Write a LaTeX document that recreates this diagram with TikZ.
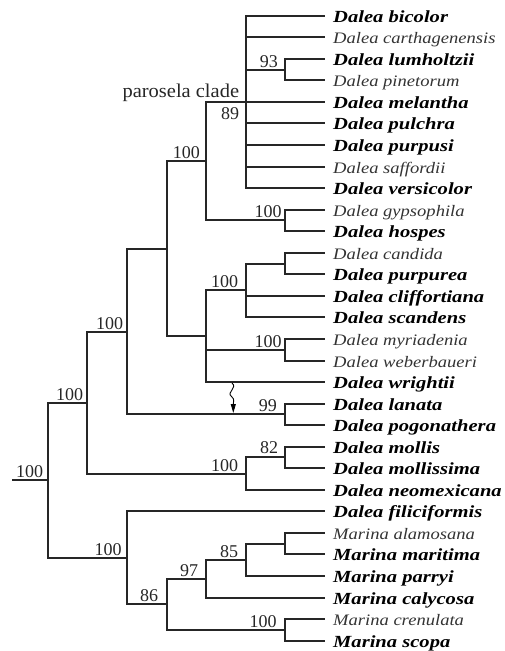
\documentclass[tikz,border=0pt]{standalone}
\usepackage{fontspec}
\setmainfont{Liberation Serif}
\newfontfamily\boldleaf[FakeStretch=1.21]{Liberation Serif}
\newfontfamily\plainleaf[FakeStretch=1.16]{Liberation Serif}
\newfontfamily\cladefont[FakeStretch=1.05]{Liberation Serif}
\usetikzlibrary{arrows.meta}
\tikzset{
  branch/.style={line width=2pt, draw=black!85},
  lb/.style={anchor=base west, inner sep=0pt, font=\boldleaf\fontsize{17}{17}\selectfont\bfseries\itshape},
  lp/.style={anchor=base west, inner sep=0pt, text=black!80, font=\plainleaf\fontsize{16}{16}\selectfont\itshape},
  supp/.style={anchor=base east, inner sep=0pt, text=black!85, font=\fontsize{18}{18}\selectfont},
  cladelabel/.style={anchor=base east, inner sep=0pt, text=black!85, font=\cladefont\fontsize{19.5}{19.5}\selectfont},
  squig/.style={line width=0.9pt, -{Triangle[length=9pt,width=5pt]}}
}
\begin{document}
\begin{tikzpicture}[x=1pt,y=-1pt]
\useasboundingbox (0,0) rectangle (504,651);
% internal nodes
\coordinate (r0) at (12,480);
\coordinate (R)  at (48,480);
\coordinate (A)  at (87,403);
\coordinate (F)  at (127,558);
\coordinate (B)  at (127,332);
\coordinate (M)  at (246,474);
\coordinate (C)  at (167,249);
\coordinate (L)  at (285,414);
\coordinate (D)  at (206,161);
\coordinate (E)  at (206,336);
\coordinate (P)  at (246,102);
\coordinate (Q)  at (285,70);
\coordinate (G1) at (285,220);
\coordinate (J)  at (246,290);
\coordinate (J1) at (285,264);
\coordinate (K)  at (285,350);
\coordinate (N)  at (285,457);
\coordinate (G)  at (167,604);
\coordinate (H)  at (206,579);
\coordinate (I)  at (246,560);
\coordinate (I1) at (285,544);
\coordinate (S)  at (285,630);
% leaves
\foreach \i/\nm/\st/\pa in {
  0/Dalea bicolor/lb/P,
  1/Dalea carthagenensis/lp/P,
  2/Dalea lumholtzii/lb/Q,
  3/Dalea pinetorum/lp/Q,
  4/Dalea melantha/lb/P,
  5/Dalea pulchra/lb/P,
  6/Dalea purpusi/lb/P,
  7/Dalea saffordii/lp/P,
  8/Dalea versicolor/lb/P,
  9/Dalea gypsophila/lp/G1,
  10/Dalea hospes/lb/G1,
  11/Dalea candida/lp/J1,
  12/Dalea purpurea/lb/J1,
  13/Dalea cliffortiana/lb/J,
  14/Dalea scandens/lb/J,
  15/Dalea myriadenia/lp/K,
  16/Dalea weberbaueri/lp/K,
  17/Dalea wrightii/lb/E,
  18/Dalea lanata/lb/L,
  19/Dalea pogonathera/lb/L,
  20/Dalea mollis/lb/N,
  21/Dalea mollissima/lb/N,
  22/Dalea neomexicana/lb/M,
  23/Dalea filiciformis/lb/F,
  24/Marina alamosana/lp/I1,
  25/Marina maritima/lb/I1,
  26/Marina parryi/lb/I,
  27/Marina calycosa/lb/H,
  28/Marina crenulata/lp/S,
  29/Marina scopa/lb/S}{
  \pgfmathsetmacro{\yy}{round(15.7+21.55*\i)}
  \coordinate (l\i) at (325,\yy);
  \node[\st] (t\i) at (333,{\yy+6.5}) {\nm};
  \draw[branch] (\pa) |- (l\i);
}
% internal branches
\draw[branch] (r0) -- (R);
\foreach \p/\c in {R/A,R/F,A/B,A/M,B/C,B/L,C/D,C/E,D/P,D/G1,P/Q,E/J,E/K,J/J1,M/N,F/G,G/H,G/S,H/I,I/I1}{
  \draw[branch] (\p) |- (\c);
}
% support values
\node[supp] (nR)  at (43.3,477.5) {100};
\node[supp] (nA)  at (83.3,400) {100};
\node[supp] (nB)  at (123.3,329) {100};
\node[supp] (nD)  at (200,158) {100};
\node[supp] (nG1) at (281.7,217.5) {100};
\node[supp] (nQ)  at (278,67) {93};
\node[cladelabel] (pc) at (239.3,97) {parosela clade};
\node[supp] (nP)  at (239.3,119.3) {89};
\node[supp] (nJ)  at (238.3,287) {100};
\node[supp] (nK)  at (281.7,347) {100};
\node[supp] (nL)  at (277,411) {99};
\node[supp] (nM)  at (238.3,471) {100};
\node[supp] (nN)  at (278.3,453.5) {82};
\node[supp] (nF)  at (121.7,555) {100};
\node[supp] (nG)  at (158.3,601) {86};
\node[supp] (nH)  at (198.3,576) {97};
\node[supp] (nI)  at (238.3,557) {85};
\node[supp] (nS)  at (276.7,627) {100};
% squiggly arrow
\coordinate (sq1) at (232,383);
\coordinate (sq2) at (233.3,413);
\draw[squig] (sq1) .. controls (238,388) and (226,392) .. (231.5,396.5)
  .. controls (235,399.5) and (233.3,401) .. (233.3,404) -- (sq2);
\end{tikzpicture}
\end{document}
